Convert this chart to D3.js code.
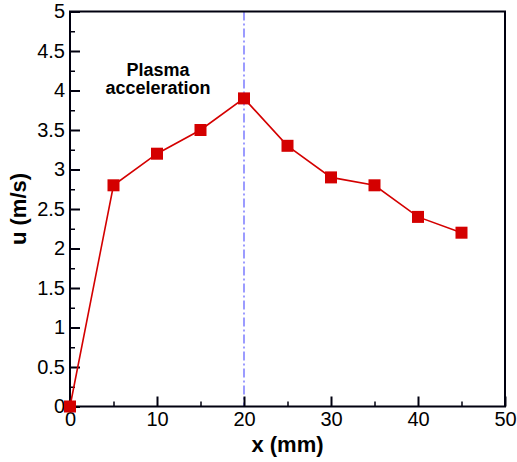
<!DOCTYPE html>
<html>
<head>
<meta charset="utf-8">
<script src="https://cdn.jsdelivr.net/npm/d3@7"></script>
<style>
  body { margin: 0; background: #fff; }
  text { font-family: "Liberation Sans", Arial, sans-serif; }
</style>
</head>
<body>
<div id="chart"></div>
<script>
// chart data
const xValues = [0, 5, 10, 15, 20, 25, 30, 35, 40, 45];
const uValues = [0, 2.8, 3.2, 3.5, 3.9, 3.3, 2.9, 2.8, 2.4, 2.2];
const xTicks = [0, 10, 20, 30, 40, 50];
const yTicks = [0, 0.5, 1, 1.5, 2, 2.5, 3, 3.5, 4, 4.5, 5];
const xMinorTicks = [5, 15, 25, 35, 45];
const yMinorTicks = [0.25, 0.75, 1.25, 1.75, 2.25, 2.75, 3.25, 3.75, 4.25, 4.75];
const markerX = 20;
const annotation = ['Plasma', 'acceleration'];

const width = 517, height = 462;
const margin = { top: 11.5, right: 12, bottom: 55.5, left: 70 };
const w = width - margin.left - margin.right;
const h = height - margin.top - margin.bottom;
const axisColor = '#00000f';

const svg = d3.select('#chart').append('svg')
  .attr('width', width).attr('height', height);
const g = svg.append('g').attr('transform', `translate(${margin.left},${margin.top})`);

const x = d3.scaleLinear().domain([0, 50]).range([0, w]);
const y = d3.scaleLinear().domain([0, 5]).range([h, 0]);

// vertical dash-dot line at x = 20
g.append('line')
  .attr('x1', x(markerX)).attr('x2', x(markerX))
  .attr('y1', 0).attr('y2', h)
  .attr('stroke', '#5a5aff').attr('stroke-width', 1.2)
  .attr('stroke-dasharray', '9,3,2,3');

// axes with inward ticks
const xAxis = g.append('g').attr('transform', `translate(0,${h})`)
  .call(d3.axisBottom(x).tickValues(xTicks).tickSize(-10).tickPadding(5));
const xMinor = g.append('g').attr('transform', `translate(0,${h})`)
  .call(d3.axisBottom(x).tickValues(xMinorTicks).tickSize(-5).tickFormat(''));
const yAxis = g.append('g')
  .call(d3.axisLeft(y).tickValues(yTicks).tickSize(-10).tickPadding(5)
    .tickFormat(d3.format('~g')));
const yMinor = g.append('g')
  .call(d3.axisLeft(y).tickValues(yMinorTicks).tickSize(-5).tickFormat(''));

[xAxis, xMinor, yAxis, yMinor].forEach(a => {
  a.select('.domain').remove();
  a.selectAll('.tick line').attr('stroke', axisColor).attr('stroke-width', 2);
});
[xMinor, yMinor].forEach(a => a.selectAll('.tick line').attr('stroke-width', 1.5));
[xAxis, yAxis].forEach(a => a.selectAll('text')
  .attr('font-size', 20).attr('fill', '#000')
  .attr('font-family', '"Liberation Sans", Arial, sans-serif'));

// frame
g.append('rect').attr('width', w).attr('height', h)
  .attr('fill', 'none').attr('stroke', axisColor).attr('stroke-width', 2);

// line
const line = d3.line().x((d, i) => x(xValues[i])).y(d => y(d));
g.append('path').datum(uValues)
  .attr('d', line)
  .attr('fill', 'none').attr('stroke', '#d40000').attr('stroke-width', 1.6);

// markers
const ms = 12;
g.selectAll('.pt').data(uValues).enter().append('rect')
  .attr('class', 'pt')
  .attr('x', (d, i) => x(xValues[i]) - ms / 2)
  .attr('y', d => y(d) - ms / 2)
  .attr('width', ms).attr('height', ms)
  .attr('fill', '#d40000');

// annotation
annotation.forEach((t, i) => {
  g.append('text')
    .attr('x', 88).attr('y', 64.5 + i * 18)
    .attr('text-anchor', 'middle')
    .attr('font-size', 18).attr('font-weight', 'bold')
    .text(t);
});

// axis titles
svg.append('text')
  .attr('x', margin.left + w / 2).attr('y', 452)
  .attr('text-anchor', 'middle')
  .attr('font-size', 22).attr('font-weight', 'bold')
  .text('x (mm)');
svg.append('text')
  .attr('transform', `translate(26,${margin.top + h / 2}) rotate(-90)`)
  .attr('text-anchor', 'middle')
  .attr('font-size', 22).attr('font-weight', 'bold')
  .text('u (m/s)');
</script>
</body>
</html>
